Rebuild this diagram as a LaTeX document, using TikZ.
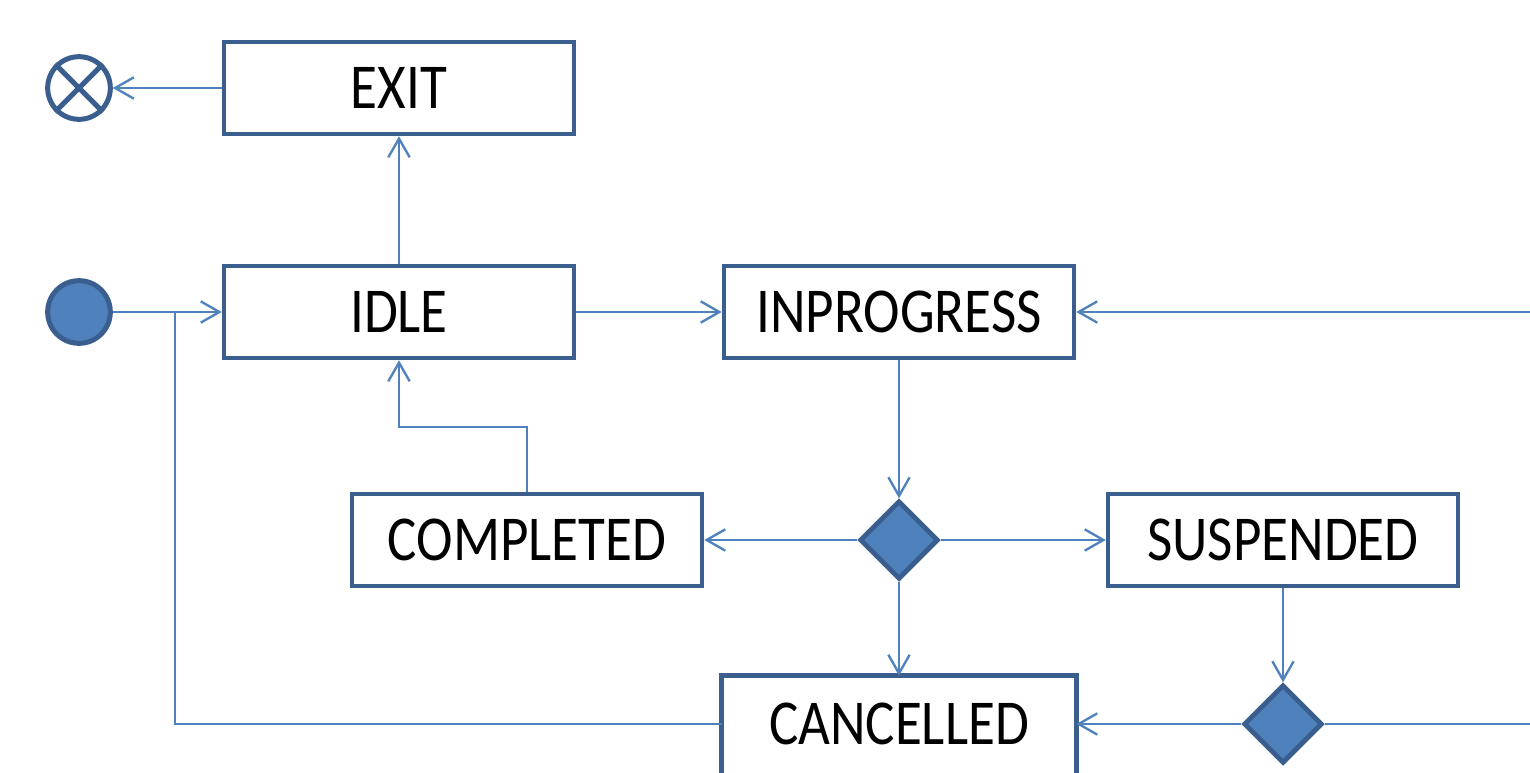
\documentclass[tikz,border=0pt]{standalone}
\usepackage{fontspec}
\newfontfamily\lblfont[FakeStretch=0.86]{Carlito}
\usetikzlibrary{arrows.meta,shapes.geometric}
\definecolor{edgeblue}{HTML}{3A5F8F}
\definecolor{lineblue}{HTML}{4F81BD}
\begin{document}
\begin{tikzpicture}[x=0.75pt,y=-0.75pt,
  state/.style={draw=edgeblue,line width=3.4pt,fill=white,minimum width=262.5pt,
    minimum height=69pt,inner sep=0pt,font=\lblfont\fontsize{48}{52}\selectfont},
  choice/.style={diamond,aspect=1,draw=edgeblue,line width=3.6pt,fill=lineblue,
    minimum width=59pt,minimum height=59pt,inner sep=0pt},
  initial/.style={circle,draw=edgeblue,line width=3.75pt,fill=lineblue,
    minimum size=47pt,inner sep=0pt},
  final/.style={circle,draw=edgeblue,line width=3.75pt,fill=white,
    minimum size=47pt,inner sep=0pt},
  conn/.style={draw=lineblue,line width=1.75pt},
  arr/.style={conn,-{Straight Barb[length=14pt,width=16pt]}}]
\useasboundingbox (0,0) rectangle (1530,772);

% states
\node[state] (exit) at (399,88) {EXIT};
\node[state] (idle) at (399,312) {IDLE};
\node[state] (inprogress) at (899,312) {INPROGRESS};
\node[state] (completed) at (527,540) {COMPLETED};
\node[state] (suspended) at (1283,540) {SUSPENDED};
\node[state,draw=none] (cancelled) at (899,724) {CANCELLED};
\draw[edgeblue,line width=3.4pt]
  ([yshift=-8pt]cancelled.south west) -- (cancelled.north west)
  -- (cancelled.north east) -- ([yshift=-8pt]cancelled.south east);

% decisions
\node[choice] (d1) at (899,540) {};
\node[choice] (d2) at (1283,724) {};

% initial and final pseudo-states
\node[initial] (start) at (79,312) {};
\node[final] (end) at (79,88) {};
\draw[edgeblue,line width=3.75pt] (end.45) -- (end.225) (end.135) -- (end.315);

% free ends of the connectors
\coordinate (join) at (175,312);
\coordinate (inright) at (1530,312);
\coordinate (outright) at (1530,724);

% transitions
\draw[arr] (exit) -- (end);
\draw[arr] (idle) -- (exit);
\draw[arr] (start) -- (idle);
\draw[arr] (idle) -- (inprogress);
\draw[arr] (inright) -- (inprogress);
\draw[arr] (inprogress) -- (d1);
\draw[arr] (d1) -- (completed);
\draw[arr] (d1) -- (suspended);
\draw[arr] (d1) -- (cancelled.north);
\draw[arr] (completed.north) -- ++(0,-65) -| (idle.south);
\draw[arr] (suspended) -- (d2);
\draw[arr] (d2) -- (cancelled.east);
\draw[conn] (d2) -- (outright);
\draw[conn] (cancelled.west) -| (join);
\end{tikzpicture}
\end{document}
